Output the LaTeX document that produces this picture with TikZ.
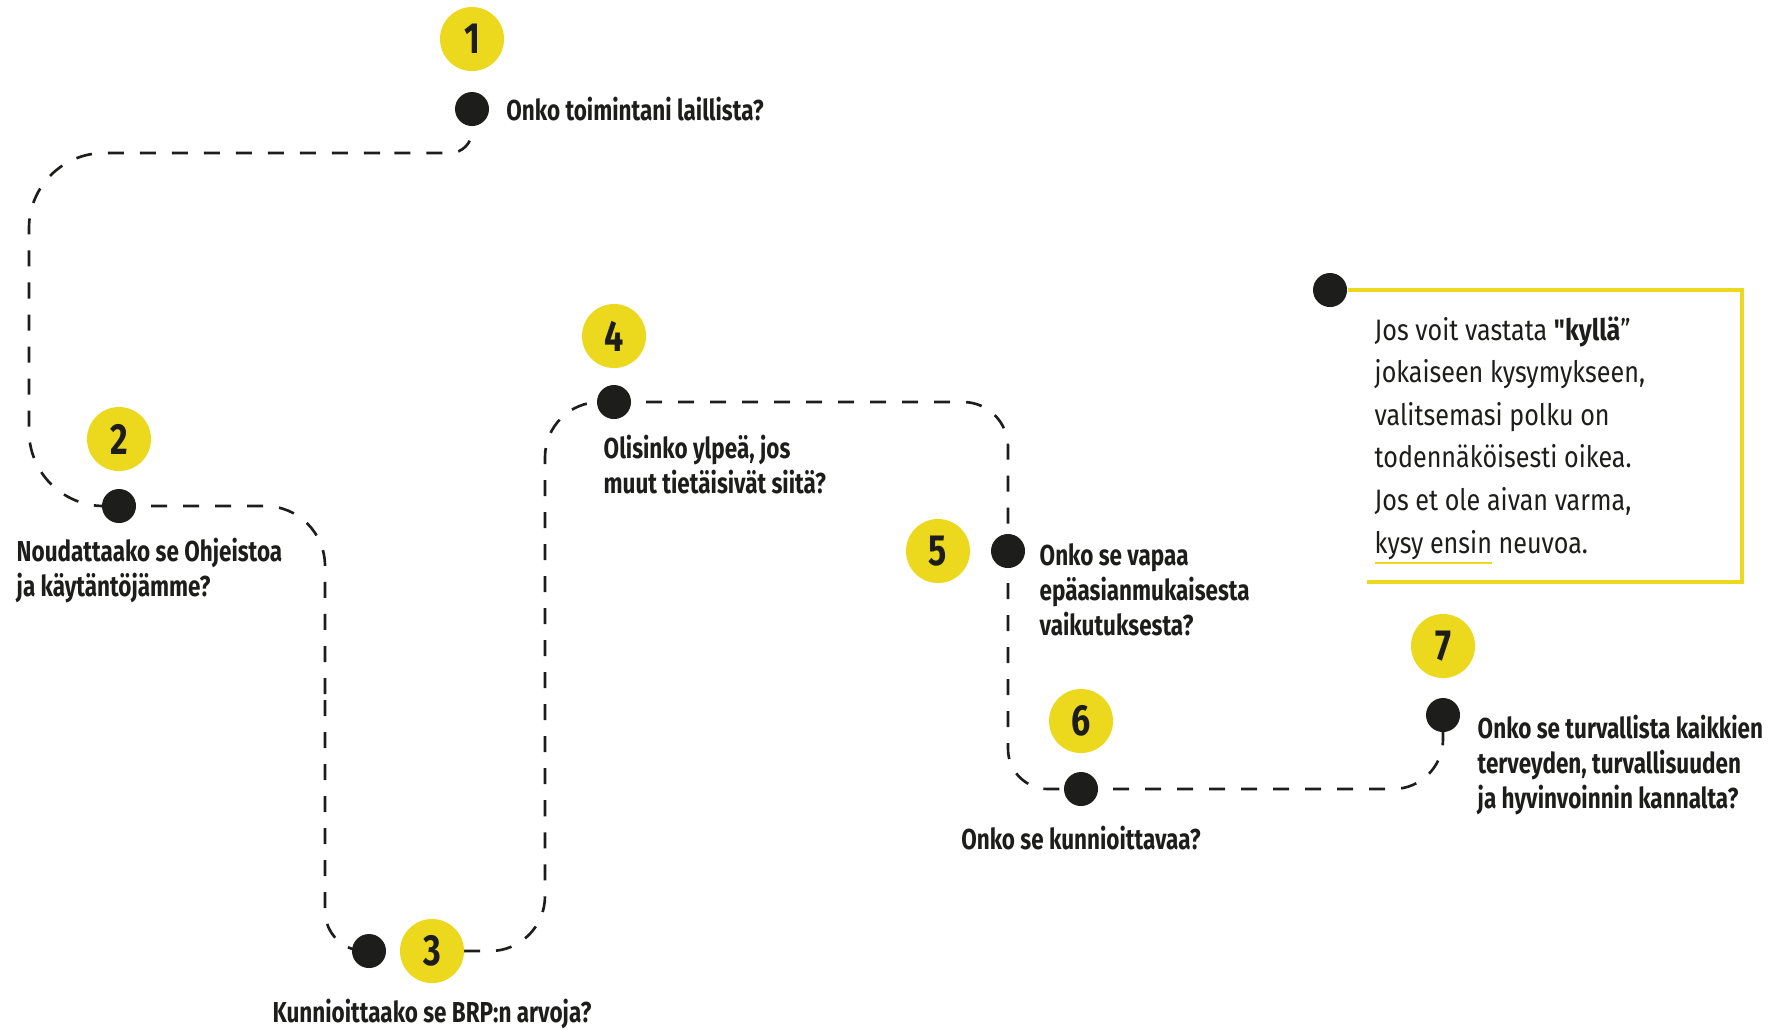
\documentclass[tikz,border=0pt]{standalone}
\usepackage{fontspec}
\setmainfont{Fira Sans}
\newfontfamily\kapea[FakeStretch=0.78]{Fira Sans}
\newfontfamily\ohut[FakeStretch=0.85]{Fira Sans}
\usetikzlibrary{positioning}
\pgfdeclarelayer{tausta}
\pgfsetlayers{tausta,main}
\definecolor{keltainen}{RGB}{236,216,28}
\definecolor{musta}{RGB}{29,29,27}
\newcommand{\alleviivaa}[1]{\setbox0\hbox{#1}\rlap{\color{keltainen}\rule[-3.2pt]{\wd0}{0.7pt}}\box0\relax}

\tikzset{
  pallo/.style={circle,fill=keltainen,minimum size=0.64cm,inner sep=0pt,text=musta,
    font=\kapea\bfseries\fontsize{12.4}{12.4}\selectfont},
  piste/.style={circle,fill=musta,minimum size=0.34cm,inner sep=0pt},
  polku/.style={musta,line width=0.75pt,dash pattern=on 0.16cm off 0.16cm},
  kysymys/.style={inner sep=0pt,align=left,text=musta,
    font=\kapea\bfseries\fontsize{8.2}{9.96}\selectfont},
  ohje/.style={inner sep=0pt,align=left,text=musta,
    font=\ohut\fontsize{8.4}{12.1}\selectfont}
}

\begin{document}
\begin{tikzpicture}[x=0.01cm,y=-0.01cm]
\useasboundingbox (0,0) rectangle (1792,1029);

%1
\node[pallo] (Y1) at (472,39) {1};
\node[piste] (D1) at (472,109) {};
\node[kysymys,right=0.16cm of D1] (Q1) {Onko toimintani laillista?};

%2
\node[pallo] (Y2) at (119,439) {2};
\node[piste] (D2) at (119,506) {};
\node[kysymys,anchor=north west] (Q2) at (16,537) {Noudattaako se Ohjeistoa\\ja käytäntöjämme?};

%3
\node[piste] (D3) at (369,951) {};
\node[pallo] (Y3) at (432,951) {3};
\node[kysymys,below=0.15cm of Y3] (Q3) {Kunnioittaako se BRP:n arvoja?};

%4
\node[pallo] (Y4) at (614,336) {4};
\node[piste] (D4) at (614,402) {};
\node[kysymys,anchor=north west] (Q4) at (603,434) {Olisinko ylpeä, jos\\muut tietäisivät siitä?};

%5
\node[pallo] (Y5) at (938,551) {5};
\node[piste] (D5) at (1008,551) {};
\node[kysymys,anchor=north west] (Q5) at (1039,543) {Onko se vapaa\\epäasianmukaisesta\\vaikutuksesta?};

%6
\node[pallo] (Y6) at (1081,721) {6};
\node[piste] (D6) at (1081,789) {};
\node[kysymys,below=0.19cm of D6] (Q6) {Onko se kunnioittavaa?};

%7
\node[pallo] (Y7) at (1443,646) {7};
\node[piste] (D7) at (1443,715) {};
\node[kysymys,anchor=north west] (Q7) at (1477,714) {Onko se turvallista kaikkien\\terveyden, turvallisuuden\\ja hyvinvoinnin kannalta?};

%ohjelaatikko
\node[piste] (D8) at (1330,290) {};
\coordinate (k8) at (1742,582);
\coordinate (k9) at (1367,582);
\draw[keltainen,line width=1pt] (D8) -| (k8) -- (k9);
\node[ohje,anchor=north west] (ohje) at (1374,316) {Jos voit vastata \textbf{"kyllä}”\\jokaiseen kysymykseen,\\valitsemasi polku on\\todennäköisesti oikea.\\Jos et ole aivan varma,\\\alleviivaa{kysy ensin} neuvoa.};

%polku
\coordinate (k1) at (380,153);
\coordinate (k2) at (29,153);
\coordinate (k3) at (325,700);
\coordinate (k4) at (545,402);
\begin{pgfonlayer}{tausta}
\draw[polku,rounded corners=0.22cm] (D1.center) |- (k1);
\draw[polku,rounded corners=0.75cm] (k1) -- (k2) |- (D2.center);
\draw[polku,rounded corners=0.6cm] (D2.center) -| (k3);
\draw[polku,rounded corners=0.4cm] (k3) |- (D3.center);
\draw[polku,rounded corners=0.55cm] (Y3.center) -| (k4) -- (D4.center);
\draw[polku,rounded corners=0.45cm] (D4.center) -| (D5.center);
\draw[polku,rounded corners=0.4cm] (D5.center) |- (D6.center);
\draw[polku,rounded corners=0.5cm] (D6.center) -| (D7.center);
\end{pgfonlayer}
\end{tikzpicture}
\end{document}
